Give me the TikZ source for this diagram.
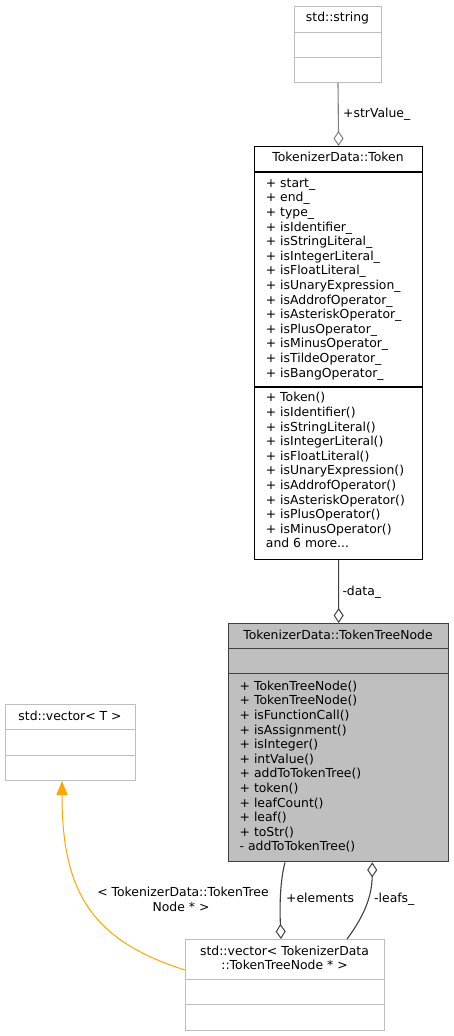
\documentclass[tikz,border=0pt]{standalone}
\usepackage{fontspec}
\setmainfont{DejaVu Sans}
\usetikzlibrary{arrows.meta,calc}
\definecolor{boxgray}{RGB}{191,191,191}
\definecolor{lightborder}{RGB}{190,190,190}
\definecolor{darkedge}{RGB}{64,64,64}
\definecolor{midedge}{RGB}{128,128,128}
\definecolor{inhorange}{RGB}{255,165,0}
\tikzset{
  classbox/.style={draw, rectangle, inner sep=0pt, anchor=north west},
  extbox/.style={classbox, draw=lightborder, line width=1pt, fill=white},
  mainbox/.style={classbox, draw=black, line width=1.2pt, fill=white},
  curbox/.style={classbox, draw=darkedge, line width=1.4pt, fill=boxgray},
  txt/.style={inner sep=0pt, anchor=base west, font=\fontsize{12.4}{14.6}\selectfont},
  ttl/.style={inner sep=0pt, anchor=base, font=\fontsize{12.4}{14.6}\selectfont},
  aggr/.style={line width=1.1pt, {Diamond[open, length=15pt, width=10pt, line width=1pt]}-},
  inh/.style={draw=inhorange, line width=1pt, -{Triangle[length=14pt, width=11pt]}},
}
\begin{document}
\begin{tikzpicture}[x=1pt, y=-1pt]
\useasboundingbox[fill=white] (0,0) rectangle (453,1036);

% std::string
\node[extbox, minimum width=87pt, minimum height=76pt] (string) at (294,6) {};
\draw[lightborder, line width=1pt] (294,32) -- (381,32) (294,57) -- (381,57);
\node[ttl] (stringT) at (337.5,21.5) {std::string};

% TokenizerData::Token
\node[mainbox, minimum width=168pt, minimum height=413pt] (token) at (254,146) {};
\draw[black, line width=1.2pt] (254,172) -- (422,172) (254,387) -- (422,387);
\node[ttl] (tokenT) at (338,161) {TokenizerData::Token};
\foreach \t [count=\i from 0] in {{start\_}, {end\_}, {type\_}, {isIdentifier\_}, {isStringLiteral\_}, {isIntegerLiteral\_}, {isFloatLiteral\_}, {isUnaryExpression\_}, {isAddrofOperator\_}, {isAsteriskOperator\_}, {isPlusOperator\_}, {isMinusOperator\_}, {isTildeOperator\_}, {isBangOperator\_}}
  \node[txt] (tokA\i) at (265.7,{187.2+14.6*\i}) {+ \t};
\foreach \t [count=\i from 0] in {{+ Token()}, {+ isIdentifier()}, {+ isStringLiteral()}, {+ isIntegerLiteral()}, {+ isFloatLiteral()}, {+ isUnaryExpression()}, {+ isAddrofOperator()}, {+ isAsteriskOperator()}, {+ isPlusOperator()}, {+ isMinusOperator()}}
  \node[txt] (tokM\i) at (265.7,{401.8+14.6*\i}) {\t};
\node[txt] (tokMore) at (265.7,547.8) {and 6 more...};

% TokenizerData::TokenTreeNode
\node[curbox, minimum width=220pt, minimum height=238pt] (tree) at (228,623) {};
\draw[darkedge, line width=1.4pt] (228,648.3) -- (448,648.3) (228,673.3) -- (448,673.3);
\node[ttl] (treeT) at (338,639.5) {TokenizerData::TokenTreeNode};
\foreach \t [count=\i from 0] in {{+ TokenTreeNode()}, {+ TokenTreeNode()}, {+ isFunctionCall()}, {+ isAssignment()}, {+ isInteger()}, {+ intValue()}, {+ addToTokenTree()}, {+ token()}, {+ leafCount()}, {+ leaf()}, {+ toStr()}, {- addToTokenTree()}}
  \node[txt] (treeM\i) at (239.5,{690.2+14.6*\i}) {\t};

% std::vector< T >
\node[extbox, minimum width=130pt, minimum height=76pt] (vecT) at (5,704) {};
\draw[lightborder, line width=1pt] (5,729.5) -- (135,729.5) (5,755) -- (135,755);
\node[ttl] (vecTT) at (70,720) {std::vector< T >};

% std::vector< TokenizerData::TokenTreeNode * >
\node[extbox, minimum width=199pt, minimum height=91pt] (vecN) at (185,939) {};
\draw[lightborder, line width=1pt] (185,979.5) -- (384,979.5) (185,1004.5) -- (384,1004.5);
\node[ttl] (vecNT1) at (284.5,955) {std::vector< TokenizerData};
\node[ttl] (vecNT2) at (284.5,969.8) {::TokenTreeNode * >};

% connectors
\draw[aggr, draw=midedge] (token.north) -- (string.south);
\node[txt] (lblStr) at (343,117.5) {+strValue\_};

\draw[aggr, draw=darkedge] (tree.north) -- (token.south);
\node[txt] (lblData) at (342.3,595) {-data\_};

\draw[aggr, draw=darkedge] ($(vecN.north west)+(96,0)$) .. controls (280,915) and (279,885) .. ($(tree.south west)+(57,0)$);
\node[txt] (lblEl) at (286,902.5) {+elements};

\draw[aggr, draw=darkedge] ($(tree.south west)+(144.3,0)$) .. controls (372,895) and (365,915) .. ($(vecN.north west)+(162,0)$);
\node[txt] (lblLeaf) at (374,902.5) {-leafs\_};

\draw[inh] ($(vecN.north west)+(0,31)$) .. controls (90,940) and (62,890) .. ($(vecT.south west)+(57,0)$);
\node[ttl] (lblInh1) at (183,896) {< TokenizerData::TokenTree};
\node[ttl] (lblInh2) at (181,911) {Node * >};
\end{tikzpicture}
\end{document}
